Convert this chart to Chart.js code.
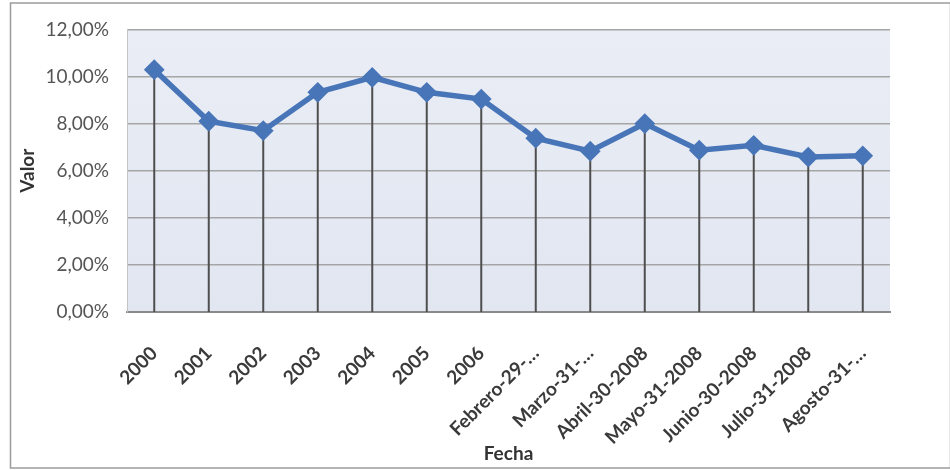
<!DOCTYPE html>
<html>
<head>
<meta charset="utf-8">
<script src="https://cdn.jsdelivr.net/npm/chart.js@4.4.1/dist/chart.umd.min.js"></script>
<style>
  html, body { margin: 0; padding: 0; background: #fff; }
  #wrap { width: 950px; height: 470px; position: relative; }
</style>
</head>
<body>
<div id="wrap"><canvas id="rateChart"></canvas></div>
<script>
// categories on the x axis (fecha)
const fechas = ['2000', '2001', '2002', '2003', '2004', '2005', '2006',
  'Febrero-29-…', 'Marzo-31-…', 'Abril-30-2008', 'Mayo-31-2008',
  'Junio-30-2008', 'Julio-31-2008', 'Agosto-31-…'];

// valor in percent
const valores = [10.29, 8.10, 7.70, 9.33, 9.96, 9.33, 9.04,
  7.38, 6.83, 8.00, 6.87, 7.08, 6.58, 6.63];

// y axis ticks
const yMin = 0;
const yMax = 12;
const yStep = 2;

const lineBlue = '#4775b8';

// white page, outer frame and the shaded plot area
const backdrop = {
  id: 'backdrop',
  beforeDraw(chart) {
    const c = chart.ctx;
    const a = chart.chartArea;
    c.save();
    c.fillStyle = '#ffffff';
    c.fillRect(0, 0, chart.width, chart.height);
    c.strokeStyle = '#9c9c9c';
    c.lineWidth = 1.5;
    c.strokeRect(10.5, 3, chart.width - 10, chart.height - 5);
    const g = c.createLinearGradient(0, a.top, 0, a.bottom);
    g.addColorStop(0, '#eaedf5');
    g.addColorStop(1, '#e1e6f1');
    c.fillStyle = g;
    c.fillRect(a.left, a.top, a.right - a.left, a.bottom - a.top);
    c.restore();
  }
};

// drop lines from each point to the category axis
const dropLines = {
  id: 'dropLines',
  beforeDatasetsDraw(chart) {
    const c = chart.ctx;
    const bottom = chart.chartArea.bottom;
    c.save();
    c.strokeStyle = '#4e4e4e';
    c.lineWidth = 2;
    chart.getDatasetMeta(0).data.forEach(p => {
      c.beginPath();
      c.moveTo(p.x, p.y);
      c.lineTo(p.x, bottom);
      c.stroke();
    });
    c.restore();
  }
};

const ctx = document.getElementById('rateChart').getContext('2d');

new Chart(ctx, {
  type: 'line',
  data: {
    labels: fechas,
    datasets: [{
      label: 'Valor',
      data: valores,
      borderColor: lineBlue,
      borderWidth: 5.5,
      backgroundColor: lineBlue,
      pointStyle: 'rectRot',
      pointRadius: 6.5,
      pointBackgroundColor: lineBlue,
      pointBorderColor: lineBlue,
      tension: 0
    }]
  },
  options: {
    responsive: true,
    maintainAspectRatio: false,
    animation: false,
    layout: { padding: { left: 10, top: 25, right: 60, bottom: 0 } },
    plugins: {
      legend: { display: false },
      tooltip: { enabled: false }
    },
    scales: {
      x: {
        offset: true,
        grid: { display: false },
        border: { display: true, color: '#8a8a8a', width: 2 },
        ticks: {
          color: '#3a3a3a',
          font: { family: 'Lato', size: 19, weight: 'bold' },
          maxRotation: 45,
          minRotation: 45,
          autoSkip: false,
          padding: 22
        },
        title: {
          display: true,
          text: 'Fecha',
          color: '#333',
          font: { family: 'Lato', size: 19, weight: 'bold' },
          padding: { top: 4, bottom: 5 }
        },
        afterFit(scale) { scale.height = 158; }
      },
      y: {
        min: yMin,
        max: yMax,
        grid: { color: '#a5a5a5', lineWidth: 1.5, drawTicks: false },
        border: { display: true, color: '#c4c4c4', width: 1 },
        ticks: {
          stepSize: yStep,
          color: '#555',
          font: { family: 'Lato', size: 19 },
          padding: 18,
          callback: v => v.toFixed(2).replace('.', ',') + '%'
        },
        title: {
          display: true,
          text: 'Valor',
          color: '#333',
          font: { family: 'Lato', size: 19, weight: 'bold' },
          padding: { top: 6, bottom: 4 }
        },
        afterFit(scale) { scale.width = 117; }
      }
    }
  },
  plugins: [backdrop, dropLines]
});
</script>
</body>
</html>
